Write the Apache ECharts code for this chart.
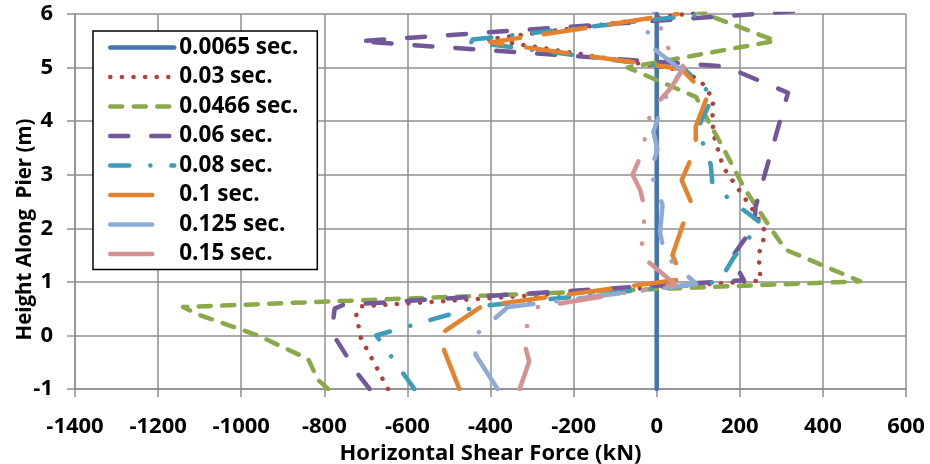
<!DOCTYPE html>
<html>
<head>
<meta charset="utf-8">
<script src="https://cdn.jsdelivr.net/npm/echarts@6/dist/echarts.min.js"></script>
<style>
html,body{margin:0;padding:0;background:#fff;}
#chart{width:930px;height:464px;}
</style>
</head>
<body>
<div id="chart"></div>
<script>
// ---- data (x = horizontal shear force kN, y = height along pier m) ----
const seriesNames = ['0.0065 sec.', '0.03 sec.', '0.0466 sec.', '0.06 sec.', '0.08 sec.', '0.1 sec.', '0.125 sec.', '0.15 sec.'];

const t0065 = [[0, -1], [0, 6]];
const t003 = [[-647, -1.0], [-681, -0.5], [-712, -0.05], [-723, 0.39], [-715, 0.54], [250, 1.02], [245, 1.5], [262, 1.92], [240, 2.25], [160, 3.14], [136, 3.77], [134, 4.19], [136, 4.41], [106, 4.75], [60, 4.95], [-407, 5.53], [120, 6.05]];
const t0466 = [[-791, -1.0], [-815, -0.83], [-839, -0.44], [-960, 0.0], [-1100, 0.38], [-1140, 0.53], [490, 1.01], [310, 1.6], [270, 2.05], [210, 2.76], [158, 3.53], [113, 4.16], [95, 4.45], [-70, 5.0], [286, 5.5], [100, 6.05]];
const t006 = [[-691, -1.0], [-718, -0.73], [-771, -0.08], [-779, 0.26], [-775, 0.5], [-755, 0.57], [210, 1.03], [180, 1.45], [235, 2.05], [238, 2.4], [316, 4.53], [166, 5.02], [-718, 5.49], [330, 6.05]];
const t008 = [[-583, -1.0], [-611, -0.7], [-675, 0.0], [-431, 0.54], [150, 1.0], [185, 1.45], [250, 2.1], [174, 2.55], [134, 2.84], [130, 3.19], [113, 3.53], [101, 3.9], [136, 4.47], [65, 4.98], [10, 5.03], [-470, 5.5], [118, 6.0]];
const t01 = [[-475, -1.0], [-526, 0.0], [-420, 0.55], [62, 1.05], [38, 1.5], [82, 2.5], [60, 2.9], [94, 3.5], [94, 3.9], [122, 4.47], [60, 4.97], [17, 5.02], [-400, 5.47], [50, 6.0]];
const t0125 = [[-383, -1.0], [-436, -0.36], [-437, 0.0], [-358, 0.53], [95, 0.96], [62, 1.2], [20, 1.49], [8, 1.91], [14, 2.44], [-15, 3.05], [2, 3.47], [-8, 3.8], [10, 4.22], [30, 4.59], [60, 4.95], [-28, 5.48], [-5, 6.1]];
const t015 = [[-330, -1.0], [-307, -0.49], [-315, -0.25], [-312, 0.2], [-286, 0.53], [45, 0.95], [-38, 1.49], [-28, 2.35], [-40, 2.72], [-58, 3.0], [-30, 3.5], [-27, 3.9], [-4, 4.29], [34, 4.62], [66, 5.0], [42, 5.21], [8, 5.58], [14, 6.0]];

const xTickLabels = ['-1400', '-1200', '-1000', '-800', '-600', '-400', '-200', '0', '200', '400', '600'];
const yTickLabels = ['-1', '0', '1', '2', '3', '4', '5', '6'];

// ---- styling ----
const seriesData = [t0065, t003, t0466, t006, t008, t01, t0125, t015];
const colors = ['#4374B0', '#B2413E', '#8AAA4A', '#725898', '#3B9DB8', '#E5822E', '#8FAAD6', '#D69290'];
const dashes = [
  'solid',
  [0.1, 11.5],
  [12, 11.5],
  [18, 23],
  [19, 21, 0.1, 21],
  [42, 24],
  [42, 23, 0.1, 22],
  [42, 23, 0.1, 22, 0.1, 22]
];
const FONT = 'Open Sans';
const gridColor = '#8f8f8f';

const chart = echarts.init(document.getElementById('chart'), null, {renderer: 'canvas'});

const series = seriesNames.map((name, i) => ({
  name: name,
  type: 'line',
  data: seriesData[i],
  symbol: 'none',
  showSymbol: false,
  smooth: false,
  clip: true,
  animation: false,
  color: colors[i],
  lineStyle: {
    color: colors[i],
    width: 4.5,
    type: dashes[i],
    cap: 'round',
    join: 'round'
  },
  emphasis: {disabled: true},
  z: 2 + i
}));

chart.setOption({
  animation: false,
  backgroundColor: '#fff',
  grid: {left: 75, right: 24, top: 14, bottom: 75, outerBoundsMode: 'none', containLabel: false},
  xAxis: {
    type: 'value',
    min: -1400, max: 600, interval: 200,
    name: 'Horizontal Shear Force (kN)',
    nameLocation: 'middle',
    nameGap: 52,
    nameTextStyle: {fontFamily: FONT, fontSize: 22, fontWeight: 'bold', color: '#000'},
    axisLine: {show: true, onZero: false, lineStyle: {color: gridColor, width: 1.5}},
    axisTick: {show: true, inside: false, length: 8, lineStyle: {color: gridColor, width: 1.5}},
    axisLabel: {
      margin: 27, fontFamily: FONT, fontSize: 22, fontWeight: 'bold', color: '#000',
      formatter: (v) => xTickLabels[Math.round((v + 1400) / 200)]
    },
    splitLine: {show: true, lineStyle: {color: gridColor, width: 1.5}}
  },
  yAxis: {
    type: 'value',
    min: -1, max: 6, interval: 1,
    name: 'Height Along  Pier (m)',
    nameLocation: 'middle',
    nameRotate: 90,
    nameGap: 39,
    nameMoveOverlap: false,
    nameTextStyle: {fontFamily: FONT, fontSize: 20.5, fontWeight: 'bold', color: '#000', padding: [0, 56, 0, 0]},
    axisLine: {show: true, onZero: false, lineStyle: {color: gridColor, width: 1.5}},
    axisTick: {show: true, inside: false, length: 8, lineStyle: {color: gridColor, width: 1.5}},
    axisLabel: {
      margin: 22, fontFamily: FONT, fontSize: 22, fontWeight: 'bold', color: '#000',
      formatter: (v) => yTickLabels[Math.round(v + 1)]
    },
    splitLine: {show: true, lineStyle: {color: gridColor, width: 1.5}}
  },
  legend: {
    show: true,
    data: seriesNames,
    orient: 'vertical',
    left: 93,
    top: 31,
    padding: [5, 19, 4, 15],
    itemGap: 6.5,
    itemWidth: 64,
    itemHeight: 22,
    backgroundColor: '#fff',
    borderColor: '#000',
    borderWidth: 1.5,
    borderRadius: 0,
    selectedMode: false,
    itemStyle: {opacity: 0},
    lineStyle: {width: 4.5},
    textStyle: {fontFamily: FONT, fontSize: 22.5, fontWeight: 'bold', color: '#000'}
  },
  tooltip: {show: false},
  series: series
});
</script>
</body>
</html>
